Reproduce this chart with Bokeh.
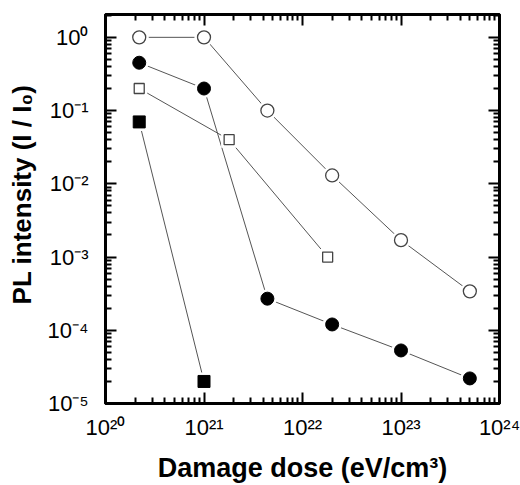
from bokeh.plotting import figure
from bokeh.models import LogAxis, FixedTicker
from bokeh.embed import file_html
from bokeh.resources import INLINE

# Data
open_circle_x = [2.2e20, 1.0e21, 4.4e21, 2.0e22, 1.0e23, 5.0e23]
open_circle_y = [1.0, 1.0, 0.1, 0.013, 1.7e-3, 3.4e-4]

filled_circle_x = [2.2e20, 1.0e21, 4.4e21, 2.0e22, 1.0e23, 5.0e23]
filled_circle_y = [0.45, 0.2, 2.7e-4, 1.2e-4, 5.3e-5, 2.2e-5]

open_square_x = [2.2e20, 1.8e21, 1.8e22]
open_square_y = [0.2, 0.04, 1.0e-3]

filled_square_x = [2.2e20, 1.0e21]
filled_square_y = [0.07, 2.0e-5]

x_major = [1e20, 1e21, 1e22, 1e23, 1e24]
x_tick_labels = ["10²⁰", "10²¹", "10²²", "10²³", "10²⁴"]
y_major = [1e-5, 1e-4, 1e-3, 1e-2, 1e-1, 1e0]
y_tick_labels = ["10⁻⁵", "10⁻⁴", "10⁻³", "10⁻²", "10⁻¹", "10⁰"]

x_minor = [k * 10.0 ** n for n in range(20, 24) for k in range(2, 10)]
y_minor = [k * 10.0 ** n for n in range(-5, 1) for k in range(2, 10)]

FONT = "Liberation Sans"

p = figure(width=520, height=485, x_axis_type="log", y_axis_type="log",
           x_range=(1e20, 1e24), y_range=(1e-5, 2.05),
           output_backend="svg", toolbar_location=None,
           min_border_left=105, min_border_right=21, min_border_top=14,
           min_border_bottom=79)
p.xgrid.visible = False
p.ygrid.visible = False
p.outline_line_color = "black"
p.outline_line_width = 3
p.background_fill_color = "white"
p.border_fill_color = "white"

bottom = p.below[0]
left = p.left[0]

xt = FixedTicker(ticks=x_major, minor_ticks=x_minor)
yt = FixedTicker(ticks=y_major, minor_ticks=y_minor)

top = LogAxis()
right = LogAxis()
p.add_layout(top, "above")
p.add_layout(right, "right")

for ax in [bottom, top]:
    ax.ticker = xt
for ax in [left, right]:
    ax.ticker = yt

for ax in [bottom, top, left, right]:
    ax.axis_line_width = 3
    ax.axis_line_color = "black"
    ax.major_tick_in = 11
    ax.major_tick_out = 0
    ax.minor_tick_in = 6
    ax.minor_tick_out = 0
    ax.major_tick_line_width = 2
    ax.minor_tick_line_width = 2
    ax.major_tick_line_color = "black"
    ax.minor_tick_line_color = "black"
    ax.major_label_text_font = FONT
    ax.major_label_text_font_size = "22px"
    ax.major_label_text_color = "black"
    ax.axis_label_text_font = FONT
    ax.axis_label_text_font_style = "bold"
    ax.axis_label_text_font_size = "26px"
    ax.axis_label_text_color = "black"

for ax in [top, right]:
    ax.major_label_text_font_size = "2px"
    ax.major_label_text_alpha = 0
    ax.major_label_standoff = 0

bottom.major_label_overrides = dict(zip(x_major, x_tick_labels))
left.major_label_overrides = dict(zip(y_major, y_tick_labels))
bottom.major_label_standoff = 11
left.major_label_standoff = 17
bottom.axis_label = "Damage dose (eV/cm³)"
left.axis_label = "\u00a0\u00a0\u00a0\u00a0PL intensity (I / I₀)"
bottom.axis_label_text_font_size = "27px"
bottom.axis_label_standoff = 10
left.axis_label_standoff = 8

LINE = "#555555"
series = [
    (open_circle_x, open_circle_y),
    (filled_circle_x, filled_circle_y),
    (open_square_x, open_square_y),
    (filled_square_x, filled_square_y),
]
for xs, ys in series:
    p.line(xs, ys, line_color=LINE, line_width=1)

# white halos so that lines stop short of markers
p.scatter(open_circle_x, open_circle_y, marker="circle", size=19, fill_color="white", line_color=None)
p.scatter(filled_circle_x, filled_circle_y, marker="circle", size=19, fill_color="white", line_color=None)
p.scatter(open_square_x, open_square_y, marker="square", size=16, fill_color="white", line_color=None)
p.scatter(filled_square_x, filled_square_y, marker="square", size=18, fill_color="white", line_color=None)

p.scatter(open_circle_x, open_circle_y, marker="circle", size=13, fill_color="white",
          line_color="#444444", line_width=1.3)
p.scatter(filled_circle_x, filled_circle_y, marker="circle", size=13, fill_color="black",
          line_color="black", line_width=1)
p.scatter(open_square_x, open_square_y, marker="square", size=10, fill_color="white",
          line_color="#444444", line_width=1.3)
p.scatter(filled_square_x, filled_square_y, marker="square", size=12, fill_color="black",
          line_color="black", line_width=1)

open("out.html", "w").write(file_html(p, INLINE))
